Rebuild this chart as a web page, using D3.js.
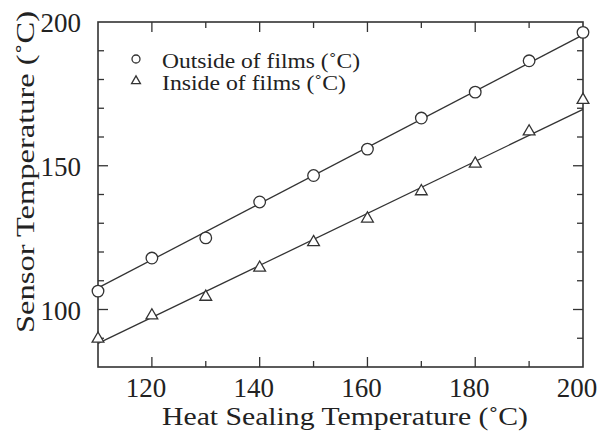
<!DOCTYPE html>
<html><head><meta charset="utf-8">
<script src="https://cdn.jsdelivr.net/npm/d3@7"></script>
<style>body{margin:0;background:#fff}svg{display:block}</style>
</head><body><svg id="c" width="599" height="434"></svg>
<script>
const xValues = [110,120,130,140,150,160,170,180,190,200];
const outsideValues = [106.4,117.9,124.9,137.4,146.6,155.8,166.6,175.6,186.5,196.4];
const insideValues = [89.8,97.9,104.4,114.5,123.4,131.6,141.1,150.7,161.9,172.9];
const fitX = [110,200];
const outsideFit = [107.5,195.5];
const insideFit = [88.2,169.6];
const xTickLabels = [120,140,160,180,200];
const yTickLabels = [100,150,200];
const legendLabels = ["Outside of films (\u02DAC)","Inside of films (\u02DAC)"];

const FONT = "'Liberation Serif', serif";
const svg = d3.select("#c");
const m = {l:98,t:22,r:583,b:367};
const x = d3.scaleLinear().domain([110,200]).range([m.l,m.r]);
const y = d3.scaleLinear().domain([80,200]).range([m.b,m.t]);
const col = "#333";
const txt = "#222";

svg.append("rect").attr("x",m.l).attr("y",m.t).attr("width",m.r-m.l).attr("height",m.b-m.t)
  .attr("fill","none").attr("stroke",col).attr("stroke-width",1.6);

const xt = d3.range(120,200,10);
const yt = d3.range(90,200,10);
const isMajX = v => xTickLabels.includes(v);
const isMajY = v => yTickLabels.includes(v);
const g = svg.append("g").attr("stroke",col).attr("stroke-width",1.3);
xt.forEach(v=>{
  const L = isMajX(v)?10:6;
  g.append("line").attr("x1",x(v)).attr("x2",x(v)).attr("y1",m.b).attr("y2",m.b-L);
  g.append("line").attr("x1",x(v)).attr("x2",x(v)).attr("y1",m.t).attr("y2",m.t+L);
});
yt.forEach(v=>{
  const L = isMajY(v)?10:6;
  g.append("line").attr("y1",y(v)).attr("y2",y(v)).attr("x1",m.l).attr("x2",m.l+L);
  g.append("line").attr("y1",y(v)).attr("y2",y(v)).attr("x1",m.r).attr("x2",m.r-L);
});

const T = () => svg.append("text").style("font-family",FONT).attr("fill",txt);
const fs = 27;
xTickLabels.forEach(v=>{
  T().attr("x",x(v)-6).attr("y",397).attr("text-anchor","middle")
    .style("font-size",fs+"px").text(v);
});
yTickLabels.forEach(v=>{
  T().attr("x",81).attr("y",y(v)+10).attr("text-anchor","end")
    .style("font-size",fs+"px").text(v);
});

T().attr("x",162).attr("y",425).style("font-size","26px")
  .attr("textLength",366).attr("lengthAdjust","spacingAndGlyphs")
  .text("Heat Sealing Temperature (\u02DAC)");
T().attr("transform","translate(34,333) rotate(-90)")
  .style("font-size","26px").attr("textLength",322).attr("lengthAdjust","spacingAndGlyphs")
  .text("Sensor Temperature (\u02DAC)");

const line = d3.line().x(d=>x(d[0])).y(d=>y(d[1]));
[outsideFit,insideFit].forEach(f=>{
  svg.append("path").attr("d",line(fitX.map((v,i)=>[v,f[i]])))
    .attr("fill","none").attr("stroke",col).attr("stroke-width",1.3);
});

const tri = d3.symbol().type(d3.symbolTriangle).size(60);
svg.append("g").selectAll("circle").data(xValues).join("circle")
  .attr("cx",d=>x(d)).attr("cy",(d,i)=>y(outsideValues[i])).attr("r",5.8)
  .attr("fill","#fff").attr("stroke",col).attr("stroke-width",1.3);
svg.append("g").selectAll("path").data(xValues).join("path")
  .attr("d",tri).attr("transform",(d,i)=>`translate(${x(d)},${y(insideValues[i])})`)
  .attr("fill","#fff").attr("stroke",col).attr("stroke-width",1.3);

svg.append("circle").attr("cx",136).attr("cy",59).attr("r",4).attr("fill","#fff").attr("stroke",col).attr("stroke-width",1.3);
svg.append("path").attr("d",d3.symbol().type(d3.symbolTriangle).size(34)).attr("transform","translate(136,81)")
  .attr("fill","#fff").attr("stroke",col).attr("stroke-width",1.3);
T().attr("x",162).attr("y",68).style("font-size","21px").attr("textLength",198).attr("lengthAdjust","spacingAndGlyphs").text(legendLabels[0]);
T().attr("x",162).attr("y",90).style("font-size","21px").attr("textLength",184).attr("lengthAdjust","spacingAndGlyphs").text(legendLabels[1]);
</script></body></html>
